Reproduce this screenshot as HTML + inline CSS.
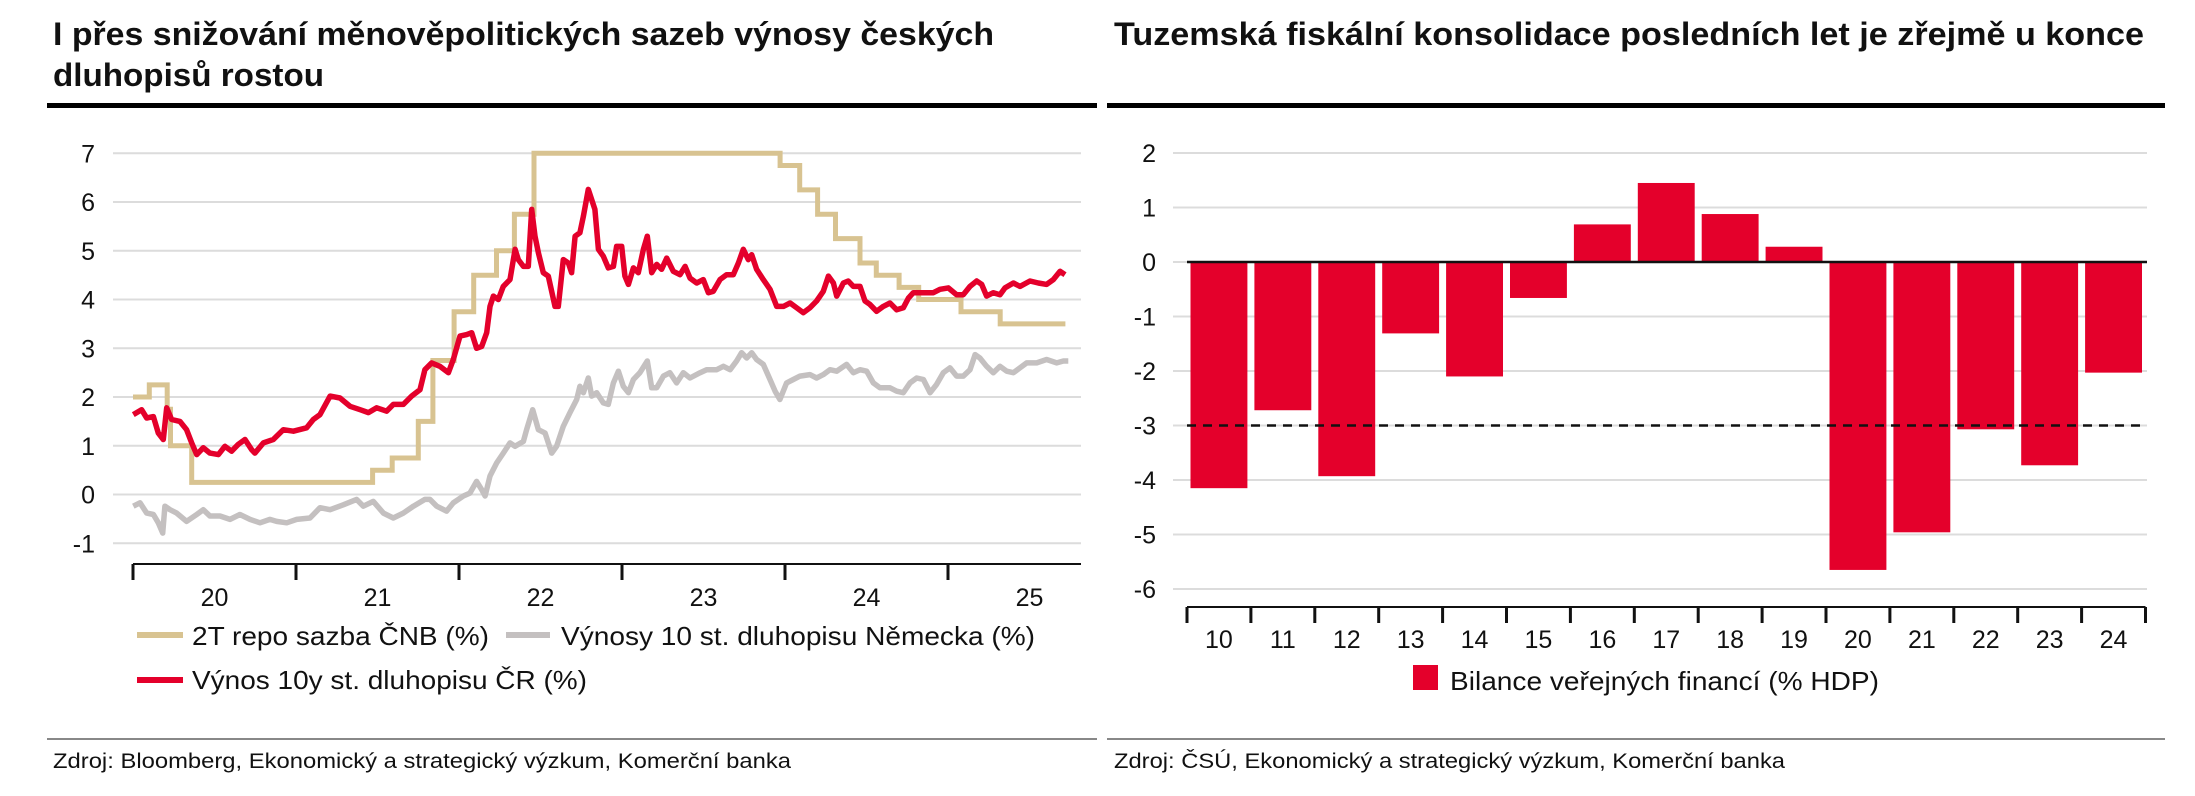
<!DOCTYPE html>
<html><head><meta charset="utf-8">
<style>
html,body{margin:0;padding:0;background:#fff;}
svg{display:block;font-family:"Liberation Sans",Arial,sans-serif;}
</style></head>
<body>
<svg id="root" width="2195" height="796" viewBox="0 0 2195 796">
  <g>
    <text x="53" y="45" font-size="32" font-weight="bold" fill="#111" textLength="941" lengthAdjust="spacingAndGlyphs">I přes snižování měnověpolitických sazeb výnosy českých</text>
    <text x="53" y="86" font-size="32" font-weight="bold" fill="#111" textLength="271" lengthAdjust="spacingAndGlyphs">dluhopisů rostou</text>
    <rect x="47" y="103" width="1050" height="5" fill="#000"/>
    <g id="lgrid"></g>
    <g id="lylabels"></g>
    <g id="lseries"></g>
    <g id="lxaxis"></g>
    <g>
      <g>
        <rect x="137" y="632" width="46" height="6" fill="#d8c391"/>
        <text x="192" y="645" font-size="26" fill="#111" textLength="297" lengthAdjust="spacingAndGlyphs">2T repo sazba ČNB (%)</text>
      </g>
      <g>
        <rect x="506" y="632" width="44" height="6" fill="#c4c0c0"/>
        <text x="561" y="645" font-size="26" fill="#111" textLength="474" lengthAdjust="spacingAndGlyphs">Výnosy 10 st. dluhopisu Německa (%)</text>
      </g>
      <g>
        <rect x="137" y="677" width="46" height="6" fill="#e4002b"/>
        <text x="192" y="689" font-size="26" fill="#111" textLength="395" lengthAdjust="spacingAndGlyphs">Výnos 10y st. dluhopisu ČR (%)</text>
      </g>
    </g>
    <rect x="47" y="738" width="1050" height="2" fill="#888"/>
    <text x="53" y="768" font-size="21" fill="#111" textLength="738" lengthAdjust="spacingAndGlyphs">Zdroj: Bloomberg, Ekonomický a strategický výzkum, Komerční banka</text>
  </g>
  <g>
    <text x="1114" y="45" font-size="32" font-weight="bold" fill="#111" textLength="1030" lengthAdjust="spacingAndGlyphs">Tuzemská fiskální konsolidace posledních let je zřejmě u konce</text>
    <rect x="1107" y="103" width="1058" height="5" fill="#000"/>
    <g id="rgrid"></g>
    <g id="rylabels"></g>
    <g id="rbars"></g>
    <g id="rxaxis"></g>
    <g>
      <g>
        <rect x="1413" y="665" width="25" height="25" fill="#e4002b"/>
        <text x="1450" y="690" font-size="26" fill="#111" textLength="429" lengthAdjust="spacingAndGlyphs">Bilance veřejných financí (% HDP)</text>
      </g>
    </g>
    <rect x="1107" y="738" width="1058" height="2" fill="#888"/>
    <text x="1114" y="768" font-size="21" fill="#111" textLength="671" lengthAdjust="spacingAndGlyphs">Zdroj: ČSÚ, Ekonomický a strategický výzkum, Komerční banka</text>
  </g>
</svg>
<script>
// ---------- Left chart data ----------
const yTicksL = [-1,0,1,2,3,4,5,6,7];
const yearLabels = ["20","21","22","23","24","25"];
const repoDates = [2020.00,2020.10,2020.21,2020.23,2020.36,2021.47,2021.59,2021.75,2021.84,2021.97,2022.09,2022.23,2022.34,2022.46,2023.97,2024.09,2024.20,2024.31,2024.46,2024.56,2024.70,2024.82,2025.08,2025.32,2025.72];
const repoValues = [2.0,2.25,1.75,1.0,0.25,0.5,0.75,1.5,2.75,3.75,4.5,5.0,5.75,7.0,6.75,6.25,5.75,5.25,4.75,4.5,4.25,4.0,3.75,3.5,3.5];
const czDates = [2020.002,2020.053,2020.084,2020.125,2020.155,2020.186,2020.207,2020.237,2020.288,2020.329,2020.36,2020.391,2020.431,2020.472,2020.524,2020.564,2020.605,2020.646,2020.687,2020.728,2020.748,2020.8,2020.861,2020.922,2020.984,2021.065,2021.106,2021.147,2021.209,2021.27,2021.331,2021.393,2021.444,2021.495,2021.556,2021.597,2021.658,2021.71,2021.761,2021.791,2021.832,2021.883,2021.935,2021.965,2022.006,2022.047,2022.078,2022.108,2022.139,2022.17,2022.19,2022.211,2022.241,2022.272,2022.313,2022.344,2022.364,2022.395,2022.425,2022.446,2022.466,2022.487,2022.517,2022.548,2022.589,2022.609,2022.64,2022.671,2022.691,2022.712,2022.742,2022.763,2022.793,2022.834,2022.855,2022.885,2022.916,2022.947,2022.967,2022.998,2023.018,2023.039,2023.07,2023.1,2023.131,2023.155,2023.182,2023.213,2023.243,2023.274,2023.315,2023.356,2023.387,2023.417,2023.458,2023.499,2023.53,2023.56,2023.601,2023.642,2023.683,2023.714,2023.744,2023.775,2023.796,2023.826,2023.867,2023.908,2023.949,2023.99,2024.031,2024.072,2024.112,2024.153,2024.194,2024.235,2024.266,2024.297,2024.317,2024.358,2024.388,2024.419,2024.46,2024.491,2024.521,2024.562,2024.603,2024.644,2024.685,2024.726,2024.757,2024.787,2024.828,2024.869,2024.91,2024.951,2025.002,2025.053,2025.094,2025.135,2025.176,2025.207,2025.237,2025.278,2025.319,2025.35,2025.401,2025.442,2025.503,2025.554,2025.605,2025.646,2025.687,2025.718];
const czValues = [1.64,1.74,1.57,1.6,1.26,1.13,1.78,1.54,1.5,1.33,1.06,0.82,0.96,0.85,0.82,0.99,0.89,1.03,1.13,0.92,0.85,1.06,1.13,1.33,1.3,1.37,1.54,1.64,2.02,1.98,1.81,1.74,1.68,1.78,1.71,1.85,1.85,2.02,2.15,2.56,2.7,2.63,2.5,2.77,3.25,3.28,3.32,3.0,3.04,3.32,3.86,4.07,4.0,4.27,4.41,5.03,4.82,4.68,4.68,5.85,5.3,4.96,4.55,4.48,3.86,3.86,4.82,4.75,4.55,5.3,5.37,5.71,6.26,5.85,5.03,4.89,4.65,4.68,5.09,5.09,4.48,4.31,4.65,4.55,5.03,5.3,4.55,4.72,4.62,4.85,4.58,4.51,4.68,4.44,4.34,4.41,4.14,4.17,4.41,4.51,4.51,4.75,5.03,4.82,4.92,4.62,4.41,4.21,3.86,3.86,3.93,3.83,3.73,3.83,3.97,4.17,4.48,4.34,4.07,4.34,4.38,4.27,4.27,3.97,3.9,3.76,3.86,3.93,3.79,3.83,4.03,4.14,4.14,4.14,4.14,4.21,4.24,4.1,4.1,4.27,4.38,4.31,4.07,4.14,4.1,4.24,4.34,4.27,4.38,4.34,4.31,4.41,4.58,4.51];
const deDates = [2020.002,2020.043,2020.084,2020.125,2020.155,2020.182,2020.196,2020.227,2020.268,2020.329,2020.391,2020.431,2020.472,2020.534,2020.595,2020.656,2020.718,2020.779,2020.84,2020.881,2020.943,2021.004,2021.086,2021.147,2021.209,2021.29,2021.372,2021.413,2021.474,2021.536,2021.597,2021.658,2021.72,2021.791,2021.822,2021.863,2021.924,2021.965,2022.027,2022.067,2022.108,2022.139,2022.16,2022.19,2022.231,2022.272,2022.313,2022.344,2022.395,2022.415,2022.452,2022.487,2022.528,2022.569,2022.599,2022.64,2022.681,2022.722,2022.742,2022.763,2022.793,2022.814,2022.845,2022.885,2022.916,2022.947,2022.978,2023.008,2023.039,2023.07,2023.11,2023.155,2023.182,2023.213,2023.254,2023.294,2023.335,2023.376,2023.417,2023.479,2023.519,2023.581,2023.622,2023.663,2023.703,2023.734,2023.765,2023.796,2023.826,2023.867,2023.908,2023.939,2023.969,2024.01,2024.051,2024.092,2024.153,2024.194,2024.235,2024.276,2024.317,2024.378,2024.419,2024.46,2024.501,2024.542,2024.583,2024.644,2024.685,2024.726,2024.767,2024.808,2024.849,2024.89,2024.93,2024.971,2025.012,2025.053,2025.094,2025.135,2025.166,2025.196,2025.237,2025.278,2025.319,2025.36,2025.401,2025.442,2025.483,2025.544,2025.605,2025.667,2025.708,2025.738];
const deValues = [-0.24,-0.17,-0.38,-0.41,-0.58,-0.79,-0.24,-0.31,-0.38,-0.55,-0.41,-0.31,-0.44,-0.44,-0.51,-0.41,-0.51,-0.58,-0.51,-0.55,-0.58,-0.51,-0.48,-0.27,-0.31,-0.21,-0.1,-0.24,-0.14,-0.38,-0.48,-0.38,-0.24,-0.1,-0.1,-0.24,-0.34,-0.17,-0.03,0.03,0.27,0.1,-0.03,0.38,0.65,0.85,1.06,0.99,1.09,1.33,1.74,1.33,1.26,0.85,0.99,1.4,1.68,1.95,2.22,2.09,2.39,2.02,2.09,1.88,1.85,2.29,2.53,2.22,2.09,2.36,2.5,2.74,2.19,2.19,2.43,2.5,2.29,2.5,2.39,2.5,2.56,2.56,2.63,2.56,2.74,2.91,2.8,2.91,2.77,2.67,2.36,2.12,1.95,2.29,2.36,2.43,2.46,2.39,2.46,2.56,2.53,2.67,2.5,2.56,2.53,2.29,2.19,2.19,2.12,2.09,2.29,2.39,2.36,2.09,2.26,2.5,2.6,2.43,2.43,2.56,2.87,2.8,2.63,2.5,2.63,2.53,2.5,2.6,2.7,2.7,2.77,2.7,2.74,2.74];

// ---------- Right chart data ----------
const yTicksR = [-6,-5,-4,-3,-2,-1,0,1,2];
const yearsR = ["10","11","12","13","14","15","16","17","18","19","20","21","22","23","24"];
const balance = [-4.15,-2.72,-3.93,-1.31,-2.1,-0.66,0.69,1.45,0.88,0.28,-5.65,-4.96,-3.07,-3.73,-2.03];
const maastrichtLimit = [-3];

const NS = "http://www.w3.org/2000/svg";
function mk(tag, attrs, parent){const e=document.createElementNS(NS,tag);for(const k in attrs)e.setAttribute(k,attrs[k]);parent.appendChild(e);return e;}

const lx0=133, lx1=1081, lyTop=153.3, lyBot=543.3;
const lxScale = t => lx0 + (t-2020)*163;
const lyScale = v => lyTop + (7-v)*(lyBot-lyTop)/8;

const lgrid=document.getElementById('lgrid'), lyl=document.getElementById('lylabels');
yTicksL.forEach(v=>{
  const g=mk('line',{x1:113,x2:lx1,y1:lyScale(v),y2:lyScale(v),stroke:'#dcdcdc','stroke-width':2},lgrid);
  
  
  const t=mk('text',{x:95,y:lyScale(v)+9,'font-size':25,'text-anchor':'end',fill:'#111'},lyl);
  t.textContent=String(v);
  
  
});
const lxa=document.getElementById('lxaxis');
const ax=mk('line',{x1:lx0,x2:lx1,y1:564,y2:564,stroke:'#111','stroke-width':2},lxa);


yearLabels.forEach((lab,i)=>{
  const tx=lxScale(2020+i);
  const tk=mk('line',{x1:tx,x2:tx,y1:564,y2:580,stroke:'#111','stroke-width':3},lxa);
  
  
  const t=mk('text',{x:lxScale(2020.5+i),y:606,'font-size':25,'text-anchor':'middle',fill:'#111'},lxa);
  t.textContent=lab;
  
  
});

const ls=document.getElementById('lseries');
function linePath(ds,vs){return ds.map((d,i)=>(i?'L':'M')+lxScale(d).toFixed(1)+' '+lyScale(vs[i]).toFixed(1)).join(' ');}
function stepPath(ds,vs){let p='M'+lxScale(ds[0]).toFixed(1)+' '+lyScale(vs[0]).toFixed(1);for(let i=1;i<ds.length;i++){p+=' H'+lxScale(ds[i]).toFixed(1)+' V'+lyScale(vs[i]).toFixed(1);}return p;}
const pDe=mk('path',{d:linePath(deDates,deValues),fill:'none',stroke:'#c4c0c0','stroke-width':5.5,'stroke-linejoin':'round'},ls);


const pRepo=mk('path',{d:stepPath(repoDates,repoValues),fill:'none',stroke:'#d8c391','stroke-width':5}, ls);


const pCz=mk('path',{d:linePath(czDates,czValues),fill:'none',stroke:'#e4002b','stroke-width':5.5,'stroke-linejoin':'round'},ls);



const rx0=1187, rstep=63.9, ryTop=153, ryBot=589;
const ryScale = v => ryTop + (2-v)*(ryBot-ryTop)/8;
const rgrid=document.getElementById('rgrid'), ryl=document.getElementById('rylabels');
yTicksR.forEach(v=>{
  const g=mk('line',{x1:1173,x2:2147,y1:ryScale(v),y2:ryScale(v),stroke:'#dcdcdc','stroke-width':2},rgrid);
  
  
  const t=mk('text',{x:1156,y:ryScale(v)+9,'font-size':25,'text-anchor':'end',fill:'#111'},ryl);
  t.textContent=String(v);
  
  
});
const rb=document.getElementById('rbars');
balance.forEach((v,i)=>{
  const x=rx0+i*rstep+3.5, y0=ryScale(0), y1=ryScale(v);
  const r=mk('rect',{x:x,y:Math.min(y0,y1),width:rstep-7,height:Math.abs(y1-y0),fill:'#e4002b'},rb);
  
  
});
const zl=mk('line',{x1:rx0,x2:2147,y1:ryScale(0),y2:ryScale(0),stroke:'#111','stroke-width':2.5},rb);


maastrichtLimit.forEach(v=>{
  const dl=mk('line',{x1:rx0,x2:2144,y1:ryScale(v),y2:ryScale(v),stroke:'#111','stroke-width':2.5,'stroke-dasharray':'9 7'},rb);
  
  
});
const rxa=document.getElementById('rxaxis');
const rax=mk('line',{x1:rx0,x2:rx0+yearsR.length*rstep,y1:607,y2:607,stroke:'#111','stroke-width':2},rxa);


for(let i=0;i<=yearsR.length;i++){
  const tx=rx0+i*rstep;
  const tk=mk('line',{x1:tx,x2:tx,y1:607,y2:623,stroke:'#111','stroke-width':3},rxa);
  
  
}
yearsR.forEach((lab,i)=>{
  const t=mk('text',{x:rx0+(i+0.5)*rstep,y:648,'font-size':25,'text-anchor':'middle',fill:'#111'},rxa);
  t.textContent=lab;
  
  
});
</script>
</body></html>
